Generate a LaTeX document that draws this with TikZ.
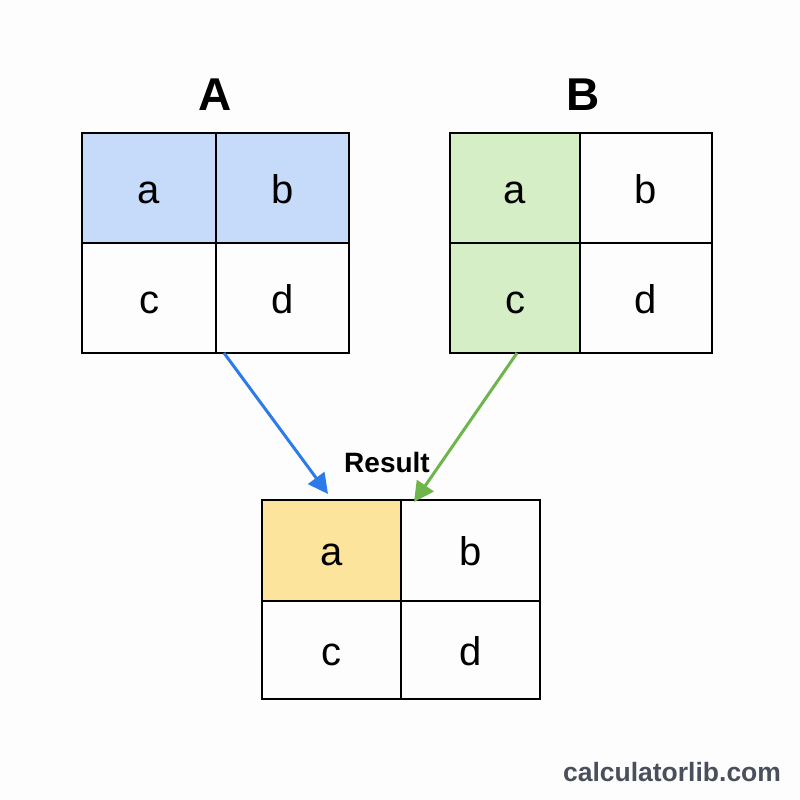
\documentclass[tikz,border=0pt]{standalone}
\usepackage{fontspec}
\setmainfont{Liberation Sans}
\usetikzlibrary{arrows.meta}
\definecolor{bluefill}{HTML}{C6DBF9}
\definecolor{greenfill}{HTML}{D5EEC6}
\definecolor{yellowfill}{HTML}{FCE49C}
\definecolor{bluearrow}{HTML}{2C7BE8}
\definecolor{greenarrow}{HTML}{6EB54B}
\definecolor{brand}{HTML}{4A4F5C}
\definecolor{bg}{HTML}{FDFDFD}
\tikzset{
  cell/.style={draw=black, line width=2pt, inner sep=0pt, text height=30pt, text depth=0pt,
    font=\fontsize{40}{44}\selectfont},
  title/.style={font=\bfseries\fontsize{46}{50}\selectfont},
  conn/.style={line width=3pt, -{Triangle[length=20pt,width=20pt]}}
}
\begin{document}
\begin{tikzpicture}[x=1pt,y=-1pt]
\useasboundingbox[fill=bg] (0,0) rectangle (800,800);
% Matrix A
\node[cell, fill=bluefill, minimum width=134pt, minimum height=110pt] (a11) at (149,188) {a};
\node[cell, fill=bluefill, minimum width=133pt, minimum height=110pt] (a12) at (282.5,188) {b};
\node[cell, minimum width=134pt, minimum height=110pt] (a21) at (149,298) {c};
\node[cell, minimum width=133pt, minimum height=110pt] (a22) at (282.5,298) {d};
\node[title] (ta) at (215,95) {A};
% Matrix B
\node[cell, fill=greenfill, minimum width=130pt, minimum height=110pt] (b11) at (515,188) {a};
\node[cell, minimum width=132pt, minimum height=110pt] (b12) at (646,188) {b};
\node[cell, fill=greenfill, minimum width=130pt, minimum height=110pt] (b21) at (515,298) {c};
\node[cell, minimum width=132pt, minimum height=110pt] (b22) at (646,298) {d};
\node[title] (tb) at (583,95) {B};
% Result
\node[cell, fill=yellowfill, minimum width=139pt, minimum height=101pt] (r11) at (331.5,550.5) {a};
\node[cell, minimum width=139pt, minimum height=101pt] (r12) at (470.5,550.5) {b};
\node[cell, minimum width=139pt, minimum height=98pt] (r21) at (331.5,650) {c};
\node[cell, minimum width=139pt, minimum height=98pt] (r22) at (470.5,650) {d};
\node[font=\bfseries\fontsize{28}{32}\selectfont] (tr) at (387,462) {Result};
% arrows
\coordinate (sa) at (224,353);
\coordinate (ea) at (328,494);
\coordinate (sb) at (517,353);
\coordinate (eb) at (414,502);
\draw[conn, draw=bluearrow, fill=bluearrow] (sa) -- (ea);
\draw[conn, draw=greenarrow, fill=greenarrow] (sb) -- (eb);
% brand
\node[font=\bfseries\fontsize{26.5}{30}\selectfont, text=brand] (brand) at (672,772) {calculatorlib.com};
\end{tikzpicture}
\end{document}
